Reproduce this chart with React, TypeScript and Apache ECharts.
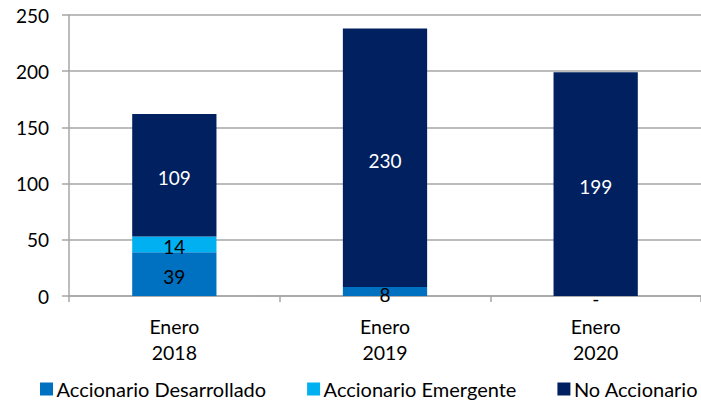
import React, { useEffect, useRef } from "react";
import * as echarts from "echarts";

const categories = ["Enero\n2018", "Enero\n2019", "Enero\n2020"];
const desarrollado = [39, 8, 0];
const emergente = [14, 0, 0];
const noAccionario = [109, 230, 199];
const yTicks = { min: 0, max: 250, interval: 50 };

const FONT = "Lato";

export default function App() {
  const ref = useRef<HTMLDivElement>(null);
  useEffect(() => {
    if (!ref.current) return;
    const chart = echarts.init(ref.current, null, { renderer: "svg" });
    const baseLabel = { fontFamily: FONT, fontSize: 19, offset: [0, 2.5] };
    chart.setOption({
      animation: false,
      textStyle: { fontFamily: FONT },
      grid: { left: 69, top: 15, width: 636, height: 281 },
      legend: {
        left: 40,
        top: 379,
        width: 700,
        padding: 0,
        itemWidth: 13,
        itemHeight: 13,
        itemGap: 41,
        icon: "rect",
        textStyle: { fontFamily: FONT, fontSize: 20, color: "#000", padding: [0, 0, 0, -1.5] },
        data: ["Accionario Desarrollado", "Accionario Emergente", "No Accionario"],
      },
      xAxis: {
        type: "category",
        data: categories,
        axisLine: { lineStyle: { color: "#A6A6A6", width: 1.5 } },
        axisTick: { show: true, length: 6, lineStyle: { color: "#A6A6A6", width: 1.5 } },
        axisLabel: { color: "#000", fontFamily: FONT, fontSize: 19.5, lineHeight: 26, margin: 17 },
      },
      yAxis: {
        type: "value",
        min: yTicks.min,
        max: yTicks.max,
        interval: yTicks.interval,
        axisLine: { show: true, lineStyle: { color: "#A6A6A6", width: 1.5 } },
        axisTick: { show: true, length: 7, lineStyle: { color: "#A6A6A6", width: 1.5 } },
        splitLine: { lineStyle: { color: "#A6A6A6", width: 1.5 } },
        axisLabel: { color: "#000", fontFamily: FONT, fontSize: 19, margin: 20 },
      },
      series: [
        {
          name: "Accionario Desarrollado",
          type: "bar",
          stack: "t",
          barWidth: "40%",
          data: desarrollado,
          itemStyle: { color: "#0070C0" },
          label: {
            show: true,
            position: "inside",
            color: "#000",
            ...baseLabel,
            formatter: (p: any) => (p.value === 0 ? "-" : String(p.value)),
          },
        },
        {
          name: "Accionario Emergente",
          type: "bar",
          stack: "t",
          data: emergente,
          itemStyle: { color: "#00B0F0" },
          label: {
            show: true,
            position: "inside",
            color: "#000",
            ...baseLabel,
            formatter: (p: any) => (p.value === 0 ? "" : String(p.value)),
          },
        },
        {
          name: "No Accionario",
          type: "bar",
          stack: "t",
          data: noAccionario,
          itemStyle: { color: "#002060" },
          label: { show: true, position: "inside", color: "#fff", ...baseLabel },
        },
      ],
    });
    return () => chart.dispose();
  }, []);
  return (
    <div
      ref={ref}
      style={{ position: "fixed", left: 0, top: 0, width: 701, height: 406, background: "#fff" }}
    />
  );
}
